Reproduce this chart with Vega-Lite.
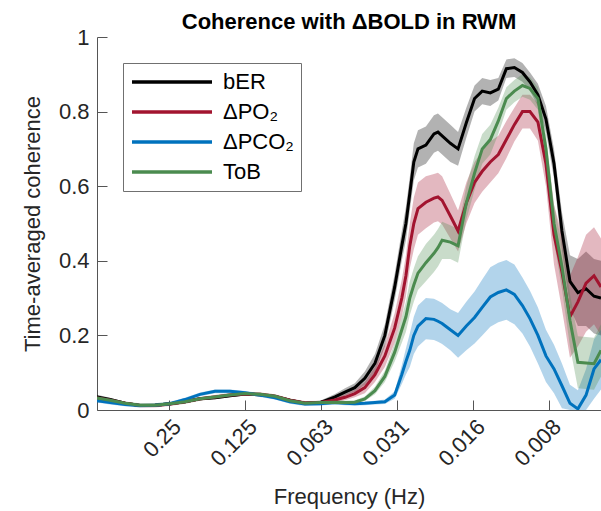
{
"$schema":"https://vega.github.io/schema/vega-lite/v6.json",
"width":504,"height":373,
"autosize":{"type":"none"},
"padding":{"left":97,"top":37,"right":0,"bottom":101},
"background":"white",
"config":{"view":{"stroke":null},"font":"Liberation Sans"},
"title":{"text":"Coherence with ΔBOLD in RWM","fontSize":22,"fontWeight":"bold","font":"Liberation Sans","color":"#000000","anchor":"middle","offset":8,"dy":16},
"data":{"values":[
{"f":0.482,"s":"bER","m":0.035,"lo":0.029,"hi":0.041},
{"f":0.428,"s":"bER","m":0.028,"lo":0.023,"hi":0.033},
{"f":0.373,"s":"bER","m":0.018,"lo":0.014,"hi":0.022},
{"f":0.326,"s":"bER","m":0.012,"lo":0.008,"hi":0.016},
{"f":0.284,"s":"bER","m":0.013,"lo":0.009,"hi":0.017},
{"f":0.2477,"s":"bER","m":0.017,"lo":0.013,"hi":0.021},
{"f":0.2161,"s":"bER","m":0.022,"lo":0.018,"hi":0.026},
{"f":0.1884,"s":"bER","m":0.03,"lo":0.026,"hi":0.034},
{"f":0.1643,"s":"bER","m":0.033,"lo":0.029,"hi":0.037},
{"f":0.1433,"s":"bER","m":0.038,"lo":0.034,"hi":0.042},
{"f":0.125,"s":"bER","m":0.043,"lo":0.039,"hi":0.047},
{"f":0.109,"s":"bER","m":0.041,"lo":0.037,"hi":0.045},
{"f":0.0951,"s":"bER","m":0.036,"lo":0.032,"hi":0.04},
{"f":0.0829,"s":"bER","m":0.026,"lo":0.022,"hi":0.03},
{"f":0.0723,"s":"bER","m":0.018,"lo":0.014,"hi":0.022},
{"f":0.063,"s":"bER","m":0.02,"lo":0.015,"hi":0.025},
{"f":0.055,"s":"bER","m":0.035,"lo":0.027,"hi":0.043},
{"f":0.0502,"s":"bER","m":0.048,"lo":0.038,"hi":0.058},
{"f":0.0459,"s":"bER","m":0.06,"lo":0.048,"hi":0.072},
{"f":0.0419,"s":"bER","m":0.085,"lo":0.067,"hi":0.103},
{"f":0.0382,"s":"bER","m":0.125,"lo":0.1,"hi":0.15},
{"f":0.0349,"s":"bER","m":0.2,"lo":0.17,"hi":0.23},
{"f":0.0319,"s":"bER","m":0.33,"lo":0.295,"hi":0.365},
{"f":0.0299,"s":"bER","m":0.44,"lo":0.4,"hi":0.48},
{"f":0.0288,"s":"bER","m":0.5,"lo":0.455,"hi":0.545},
{"f":0.0278,"s":"bER","m":0.58,"lo":0.535,"hi":0.625},
{"f":0.0268,"s":"bER","m":0.665,"lo":0.615,"hi":0.715},
{"f":0.0258,"s":"bER","m":0.7,"lo":0.65,"hi":0.75},
{"f":0.024,"s":"bER","m":0.71,"lo":0.66,"hi":0.76},
{"f":0.0223,"s":"bER","m":0.74,"lo":0.69,"hi":0.79},
{"f":0.0215,"s":"bER","m":0.745,"lo":0.695,"hi":0.795},
{"f":0.0207,"s":"bER","m":0.735,"lo":0.685,"hi":0.785},
{"f":0.0192,"s":"bER","m":0.715,"lo":0.665,"hi":0.765},
{"f":0.0179,"s":"bER","m":0.7,"lo":0.655,"hi":0.745},
{"f":0.0166,"s":"bER","m":0.77,"lo":0.73,"hi":0.81},
{"f":0.0154,"s":"bER","m":0.835,"lo":0.8,"hi":0.87},
{"f":0.01436,"s":"bER","m":0.855,"lo":0.82,"hi":0.89},
{"f":0.01334,"s":"bER","m":0.85,"lo":0.815,"hi":0.885},
{"f":0.0124,"s":"bER","m":0.86,"lo":0.83,"hi":0.89},
{"f":0.01152,"s":"bER","m":0.915,"lo":0.89,"hi":0.94},
{"f":0.01071,"s":"bER","m":0.918,"lo":0.893,"hi":0.943},
{"f":0.00995,"s":"bER","m":0.905,"lo":0.88,"hi":0.93},
{"f":0.00929,"s":"bER","m":0.88,"lo":0.855,"hi":0.905},
{"f":0.00864,"s":"bER","m":0.845,"lo":0.815,"hi":0.875},
{"f":0.00803,"s":"bER","m":0.78,"lo":0.745,"hi":0.815},
{"f":0.00746,"s":"bER","m":0.66,"lo":0.62,"hi":0.7},
{"f":0.00694,"s":"bER","m":0.48,"lo":0.43,"hi":0.53},
{"f":0.00645,"s":"bER","m":0.345,"lo":0.275,"hi":0.415},
{"f":0.006,"s":"bER","m":0.315,"lo":0.225,"hi":0.405},
{"f":0.00557,"s":"bER","m":0.325,"lo":0.225,"hi":0.425},
{"f":0.00518,"s":"bER","m":0.305,"lo":0.205,"hi":0.405},
{"f":0.00486,"s":"bER","m":0.3,"lo":0.2,"hi":0.4},
{"f":0.482,"s":"ΔPO₂","m":0.032,"lo":0.027,"hi":0.037},
{"f":0.428,"s":"ΔPO₂","m":0.026,"lo":0.021,"hi":0.031},
{"f":0.373,"s":"ΔPO₂","m":0.018,"lo":0.013,"hi":0.023},
{"f":0.326,"s":"ΔPO₂","m":0.012,"lo":0.007,"hi":0.017},
{"f":0.284,"s":"ΔPO₂","m":0.012,"lo":0.007,"hi":0.017},
{"f":0.2477,"s":"ΔPO₂","m":0.016,"lo":0.011,"hi":0.021},
{"f":0.2161,"s":"ΔPO₂","m":0.022,"lo":0.017,"hi":0.027},
{"f":0.1884,"s":"ΔPO₂","m":0.03,"lo":0.025,"hi":0.035},
{"f":0.1643,"s":"ΔPO₂","m":0.035,"lo":0.03,"hi":0.04},
{"f":0.1433,"s":"ΔPO₂","m":0.04,"lo":0.035,"hi":0.045},
{"f":0.125,"s":"ΔPO₂","m":0.043,"lo":0.038,"hi":0.048},
{"f":0.109,"s":"ΔPO₂","m":0.042,"lo":0.037,"hi":0.047},
{"f":0.0951,"s":"ΔPO₂","m":0.037,"lo":0.032,"hi":0.042},
{"f":0.0829,"s":"ΔPO₂","m":0.026,"lo":0.021,"hi":0.031},
{"f":0.0723,"s":"ΔPO₂","m":0.019,"lo":0.014,"hi":0.024},
{"f":0.063,"s":"ΔPO₂","m":0.02,"lo":0.015,"hi":0.025},
{"f":0.055,"s":"ΔPO₂","m":0.027,"lo":0.021,"hi":0.033},
{"f":0.0502,"s":"ΔPO₂","m":0.034,"lo":0.026,"hi":0.042},
{"f":0.0459,"s":"ΔPO₂","m":0.044,"lo":0.034,"hi":0.054},
{"f":0.0419,"s":"ΔPO₂","m":0.06,"lo":0.045,"hi":0.075},
{"f":0.0382,"s":"ΔPO₂","m":0.095,"lo":0.075,"hi":0.115},
{"f":0.0349,"s":"ΔPO₂","m":0.145,"lo":0.115,"hi":0.175},
{"f":0.0319,"s":"ΔPO₂","m":0.22,"lo":0.18,"hi":0.26},
{"f":0.0299,"s":"ΔPO₂","m":0.3,"lo":0.25,"hi":0.35},
{"f":0.0288,"s":"ΔPO₂","m":0.36,"lo":0.305,"hi":0.415},
{"f":0.0278,"s":"ΔPO₂","m":0.44,"lo":0.38,"hi":0.5},
{"f":0.0268,"s":"ΔPO₂","m":0.5,"lo":0.43,"hi":0.57},
{"f":0.0258,"s":"ΔPO₂","m":0.54,"lo":0.47,"hi":0.61},
{"f":0.024,"s":"ΔPO₂","m":0.557,"lo":0.487,"hi":0.627},
{"f":0.0223,"s":"ΔPO₂","m":0.568,"lo":0.503,"hi":0.633},
{"f":0.0215,"s":"ΔPO₂","m":0.571,"lo":0.506,"hi":0.636},
{"f":0.0207,"s":"ΔPO₂","m":0.562,"lo":0.497,"hi":0.627},
{"f":0.0192,"s":"ΔPO₂","m":0.52,"lo":0.46,"hi":0.58},
{"f":0.0179,"s":"ΔPO₂","m":0.48,"lo":0.425,"hi":0.535},
{"f":0.0166,"s":"ΔPO₂","m":0.555,"lo":0.5,"hi":0.61},
{"f":0.0154,"s":"ΔPO₂","m":0.61,"lo":0.555,"hi":0.665},
{"f":0.01436,"s":"ΔPO₂","m":0.64,"lo":0.585,"hi":0.695},
{"f":0.01334,"s":"ΔPO₂","m":0.665,"lo":0.61,"hi":0.72},
{"f":0.0124,"s":"ΔPO₂","m":0.685,"lo":0.635,"hi":0.735},
{"f":0.01152,"s":"ΔPO₂","m":0.725,"lo":0.675,"hi":0.775},
{"f":0.01071,"s":"ΔPO₂","m":0.765,"lo":0.72,"hi":0.81},
{"f":0.00995,"s":"ΔPO₂","m":0.8,"lo":0.755,"hi":0.845},
{"f":0.00929,"s":"ΔPO₂","m":0.8,"lo":0.755,"hi":0.845},
{"f":0.00864,"s":"ΔPO₂","m":0.772,"lo":0.722,"hi":0.822},
{"f":0.00803,"s":"ΔPO₂","m":0.66,"lo":0.6,"hi":0.72},
{"f":0.00746,"s":"ΔPO₂","m":0.47,"lo":0.39,"hi":0.55},
{"f":0.00694,"s":"ΔPO₂","m":0.37,"lo":0.27,"hi":0.47},
{"f":0.00645,"s":"ΔPO₂","m":0.25,"lo":0.14,"hi":0.36},
{"f":0.006,"s":"ΔPO₂","m":0.29,"lo":0.17,"hi":0.41},
{"f":0.00557,"s":"ΔPO₂","m":0.34,"lo":0.21,"hi":0.47},
{"f":0.00518,"s":"ΔPO₂","m":0.36,"lo":0.23,"hi":0.49},
{"f":0.00486,"s":"ΔPO₂","m":0.33,"lo":0.2,"hi":0.46},
{"f":0.482,"s":"ΔPCO₂","m":0.025,"lo":0.02,"hi":0.03},
{"f":0.428,"s":"ΔPCO₂","m":0.02,"lo":0.015,"hi":0.025},
{"f":0.373,"s":"ΔPCO₂","m":0.015,"lo":0.01,"hi":0.02},
{"f":0.326,"s":"ΔPCO₂","m":0.012,"lo":0.007,"hi":0.017},
{"f":0.284,"s":"ΔPCO₂","m":0.013,"lo":0.008,"hi":0.018},
{"f":0.2477,"s":"ΔPCO₂","m":0.017,"lo":0.012,"hi":0.022},
{"f":0.2161,"s":"ΔPCO₂","m":0.028,"lo":0.023,"hi":0.033},
{"f":0.1884,"s":"ΔPCO₂","m":0.042,"lo":0.037,"hi":0.047},
{"f":0.1643,"s":"ΔPCO₂","m":0.05,"lo":0.045,"hi":0.055},
{"f":0.1433,"s":"ΔPCO₂","m":0.05,"lo":0.045,"hi":0.055},
{"f":0.125,"s":"ΔPCO₂","m":0.046,"lo":0.041,"hi":0.051},
{"f":0.109,"s":"ΔPCO₂","m":0.04,"lo":0.035,"hi":0.045},
{"f":0.0951,"s":"ΔPCO₂","m":0.033,"lo":0.028,"hi":0.038},
{"f":0.0829,"s":"ΔPCO₂","m":0.022,"lo":0.017,"hi":0.027},
{"f":0.0723,"s":"ΔPCO₂","m":0.016,"lo":0.011,"hi":0.021},
{"f":0.063,"s":"ΔPCO₂","m":0.017,"lo":0.012,"hi":0.022},
{"f":0.055,"s":"ΔPCO₂","m":0.02,"lo":0.015,"hi":0.025},
{"f":0.0502,"s":"ΔPCO₂","m":0.018,"lo":0.013,"hi":0.023},
{"f":0.0459,"s":"ΔPCO₂","m":0.017,"lo":0.012,"hi":0.022},
{"f":0.0419,"s":"ΔPCO₂","m":0.018,"lo":0.013,"hi":0.023},
{"f":0.0382,"s":"ΔPCO₂","m":0.02,"lo":0.015,"hi":0.025},
{"f":0.0349,"s":"ΔPCO₂","m":0.022,"lo":0.016,"hi":0.028},
{"f":0.0319,"s":"ΔPCO₂","m":0.04,"lo":0.03,"hi":0.05},
{"f":0.0299,"s":"ΔPCO₂","m":0.095,"lo":0.07,"hi":0.12},
{"f":0.0288,"s":"ΔPCO₂","m":0.13,"lo":0.095,"hi":0.165},
{"f":0.0278,"s":"ΔPCO₂","m":0.16,"lo":0.115,"hi":0.205},
{"f":0.0268,"s":"ΔPCO₂","m":0.2,"lo":0.15,"hi":0.25},
{"f":0.0258,"s":"ΔPCO₂","m":0.225,"lo":0.17,"hi":0.28},
{"f":0.024,"s":"ΔPCO₂","m":0.245,"lo":0.19,"hi":0.3},
{"f":0.0223,"s":"ΔPCO₂","m":0.243,"lo":0.188,"hi":0.298},
{"f":0.0215,"s":"ΔPCO₂","m":0.238,"lo":0.183,"hi":0.293},
{"f":0.0207,"s":"ΔPCO₂","m":0.232,"lo":0.177,"hi":0.287},
{"f":0.0192,"s":"ΔPCO₂","m":0.215,"lo":0.16,"hi":0.27},
{"f":0.0179,"s":"ΔPCO₂","m":0.2,"lo":0.14,"hi":0.26},
{"f":0.0166,"s":"ΔPCO₂","m":0.225,"lo":0.16,"hi":0.29},
{"f":0.0154,"s":"ΔPCO₂","m":0.248,"lo":0.178,"hi":0.318},
{"f":0.01436,"s":"ΔPCO₂","m":0.275,"lo":0.2,"hi":0.35},
{"f":0.01334,"s":"ΔPCO₂","m":0.303,"lo":0.223,"hi":0.383},
{"f":0.0124,"s":"ΔPCO₂","m":0.315,"lo":0.235,"hi":0.395},
{"f":0.01152,"s":"ΔPCO₂","m":0.322,"lo":0.242,"hi":0.402},
{"f":0.01071,"s":"ΔPCO₂","m":0.31,"lo":0.23,"hi":0.39},
{"f":0.00995,"s":"ΔPCO₂","m":0.28,"lo":0.205,"hi":0.355},
{"f":0.00929,"s":"ΔPCO₂","m":0.245,"lo":0.17,"hi":0.32},
{"f":0.00864,"s":"ΔPCO₂","m":0.2,"lo":0.125,"hi":0.275},
{"f":0.00803,"s":"ΔPCO₂","m":0.145,"lo":0.075,"hi":0.215},
{"f":0.00746,"s":"ΔPCO₂","m":0.11,"lo":0.045,"hi":0.175},
{"f":0.00694,"s":"ΔPCO₂","m":0.065,"lo":0.005,"hi":0.125},
{"f":0.00645,"s":"ΔPCO₂","m":0.018,"lo":0,"hi":0.068},
{"f":0.006,"s":"ΔPCO₂","m":0.003,"lo":0,"hi":0.053},
{"f":0.00557,"s":"ΔPCO₂","m":0.04,"lo":0,"hi":0.11},
{"f":0.00518,"s":"ΔPCO₂","m":0.11,"lo":0.03,"hi":0.19},
{"f":0.00486,"s":"ΔPCO₂","m":0.135,"lo":0.055,"hi":0.215},
{"f":0.482,"s":"ToB","m":0.032,"lo":0.027,"hi":0.037},
{"f":0.428,"s":"ToB","m":0.026,"lo":0.021,"hi":0.031},
{"f":0.373,"s":"ToB","m":0.018,"lo":0.013,"hi":0.023},
{"f":0.326,"s":"ToB","m":0.013,"lo":0.008,"hi":0.018},
{"f":0.284,"s":"ToB","m":0.013,"lo":0.008,"hi":0.018},
{"f":0.2477,"s":"ToB","m":0.017,"lo":0.012,"hi":0.022},
{"f":0.2161,"s":"ToB","m":0.022,"lo":0.017,"hi":0.027},
{"f":0.1884,"s":"ToB","m":0.03,"lo":0.025,"hi":0.035},
{"f":0.1643,"s":"ToB","m":0.035,"lo":0.03,"hi":0.04},
{"f":0.1433,"s":"ToB","m":0.04,"lo":0.035,"hi":0.045},
{"f":0.125,"s":"ToB","m":0.044,"lo":0.039,"hi":0.049},
{"f":0.109,"s":"ToB","m":0.042,"lo":0.037,"hi":0.047},
{"f":0.0951,"s":"ToB","m":0.037,"lo":0.032,"hi":0.042},
{"f":0.0829,"s":"ToB","m":0.025,"lo":0.02,"hi":0.03},
{"f":0.0723,"s":"ToB","m":0.018,"lo":0.013,"hi":0.023},
{"f":0.063,"s":"ToB","m":0.02,"lo":0.015,"hi":0.025},
{"f":0.055,"s":"ToB","m":0.021,"lo":0.016,"hi":0.026},
{"f":0.0502,"s":"ToB","m":0.02,"lo":0.015,"hi":0.025},
{"f":0.0459,"s":"ToB","m":0.021,"lo":0.016,"hi":0.026},
{"f":0.0419,"s":"ToB","m":0.03,"lo":0.024,"hi":0.036},
{"f":0.0382,"s":"ToB","m":0.052,"lo":0.042,"hi":0.062},
{"f":0.0349,"s":"ToB","m":0.09,"lo":0.075,"hi":0.105},
{"f":0.0319,"s":"ToB","m":0.155,"lo":0.13,"hi":0.18},
{"f":0.0299,"s":"ToB","m":0.215,"lo":0.18,"hi":0.25},
{"f":0.0288,"s":"ToB","m":0.25,"lo":0.21,"hi":0.29},
{"f":0.0278,"s":"ToB","m":0.3,"lo":0.255,"hi":0.345},
{"f":0.0268,"s":"ToB","m":0.335,"lo":0.29,"hi":0.38},
{"f":0.0258,"s":"ToB","m":0.367,"lo":0.322,"hi":0.412},
{"f":0.024,"s":"ToB","m":0.395,"lo":0.345,"hi":0.445},
{"f":0.0223,"s":"ToB","m":0.42,"lo":0.37,"hi":0.47},
{"f":0.0215,"s":"ToB","m":0.435,"lo":0.385,"hi":0.485},
{"f":0.0207,"s":"ToB","m":0.455,"lo":0.405,"hi":0.505},
{"f":0.0192,"s":"ToB","m":0.45,"lo":0.405,"hi":0.495},
{"f":0.0179,"s":"ToB","m":0.44,"lo":0.395,"hi":0.485},
{"f":0.0166,"s":"ToB","m":0.555,"lo":0.51,"hi":0.6},
{"f":0.0154,"s":"ToB","m":0.635,"lo":0.59,"hi":0.68},
{"f":0.01436,"s":"ToB","m":0.7,"lo":0.66,"hi":0.74},
{"f":0.01334,"s":"ToB","m":0.725,"lo":0.685,"hi":0.765},
{"f":0.0124,"s":"ToB","m":0.775,"lo":0.74,"hi":0.81},
{"f":0.01152,"s":"ToB","m":0.835,"lo":0.805,"hi":0.865},
{"f":0.01071,"s":"ToB","m":0.855,"lo":0.825,"hi":0.885},
{"f":0.00995,"s":"ToB","m":0.87,"lo":0.84,"hi":0.9},
{"f":0.00929,"s":"ToB","m":0.862,"lo":0.832,"hi":0.892},
{"f":0.00864,"s":"ToB","m":0.835,"lo":0.805,"hi":0.865},
{"f":0.00803,"s":"ToB","m":0.7,"lo":0.66,"hi":0.74},
{"f":0.00746,"s":"ToB","m":0.5,"lo":0.45,"hi":0.55},
{"f":0.00694,"s":"ToB","m":0.385,"lo":0.325,"hi":0.445},
{"f":0.00645,"s":"ToB","m":0.24,"lo":0.17,"hi":0.31},
{"f":0.006,"s":"ToB","m":0.128,"lo":0.058,"hi":0.198},
{"f":0.00557,"s":"ToB","m":0.126,"lo":0.056,"hi":0.196},
{"f":0.00518,"s":"ToB","m":0.124,"lo":0.054,"hi":0.194},
{"f":0.00486,"s":"ToB","m":0.16,"lo":0.09,"hi":0.23}
]},
"encoding":{
 "x":{"field":"f","type":"quantitative",
  "scale":{"type":"log","base":2,"domain":[0.00486,0.482],"reverse":true,"nice":false,"zero":false},
  "axis":{"values":[0.25,0.125,0.0625,0.03125,0.015625,0.0078125],"format":".3~f","labelAngle":-45,"labelAlign":"right","labelBaseline":"middle","labelFontSize":22,"labelFont":"Liberation Sans","labelColor":"#262626","labelPadding":23,"labelOffset":8,"labelFlush":false,"labelOverlap":false,"tickSize":-10,"tickColor":"#555555","domainColor":"#555555","grid":false,"title":"Frequency (Hz)","titleFontSize":22,"titleFont":"Liberation Sans","titleFontWeight":"normal","titleColor":"#262626","titleY":93,"titleBaseline":"alphabetic"}},
 "y":{"type":"quantitative","scale":{"domain":[0,1],"nice":false},
    "axis":{"values":[0,0.2,0.4,0.6,0.8,1],"format":".1~f","labelFontSize":22,"labelFont":"Liberation Sans","labelColor":"#262626","labelPadding":18,"tickSize":-10,"tickColor":"#555555","domainColor":"#555555","grid":false,"title":"Time-averaged coherence","titleFontSize":22,"titleFont":"Liberation Sans","titleFontWeight":"normal","titleColor":"#262626","titleX":-58,"titleBaseline":"alphabetic"}}
},
"layer":[
 {"transform":[{"filter":"datum.s === 'bER'"}],"mark":{"type":"area","color":"#000000","fillOpacity":0.3,"clip":true},"encoding":{"y":{"field":"lo","type":"quantitative"},"y2":{"field":"hi"}}},
 {"transform":[{"filter":"datum.s === 'ΔPO₂'"}],"mark":{"type":"area","color":"#A2142F","fillOpacity":0.3,"clip":true},"encoding":{"y":{"field":"lo","type":"quantitative"},"y2":{"field":"hi"}}},
 {"transform":[{"filter":"datum.s === 'ΔPCO₂'"}],"mark":{"type":"area","color":"#0072BD","fillOpacity":0.3,"clip":true},"encoding":{"y":{"field":"lo","type":"quantitative"},"y2":{"field":"hi"}}},
 {"transform":[{"filter":"datum.s === 'ToB'"}],"mark":{"type":"area","color":"#4B8B4F","fillOpacity":0.3,"clip":true},"encoding":{"y":{"field":"lo","type":"quantitative"},"y2":{"field":"hi"}}},
 {"mark":{"type":"line","strokeWidth":3,"clip":true},
  "encoding":{
   "y":{"field":"m","type":"quantitative"},
   "color":{"field":"s","type":"nominal",
    "scale":{"domain":["bER","ΔPO₂","ΔPCO₂","ToB"],"range":["#000000","#A2142F","#0072BD","#4B8B4F"]},
    "legend":{"orient":"none","legendX":26,"legendY":26,"title":null,"symbolType":"stroke","symbolSize":6400,"symbolStrokeWidth":3.5,"clipHeight":24,"rowPadding":6,"padding":7,"strokeColor":"#707070","fillColor":"#ffffff","labelFont":"Liberation Sans","labelFontSize":22,"labelColor":"#000000","labelOffset":9,"labelLimit":300}}}}
]
}
